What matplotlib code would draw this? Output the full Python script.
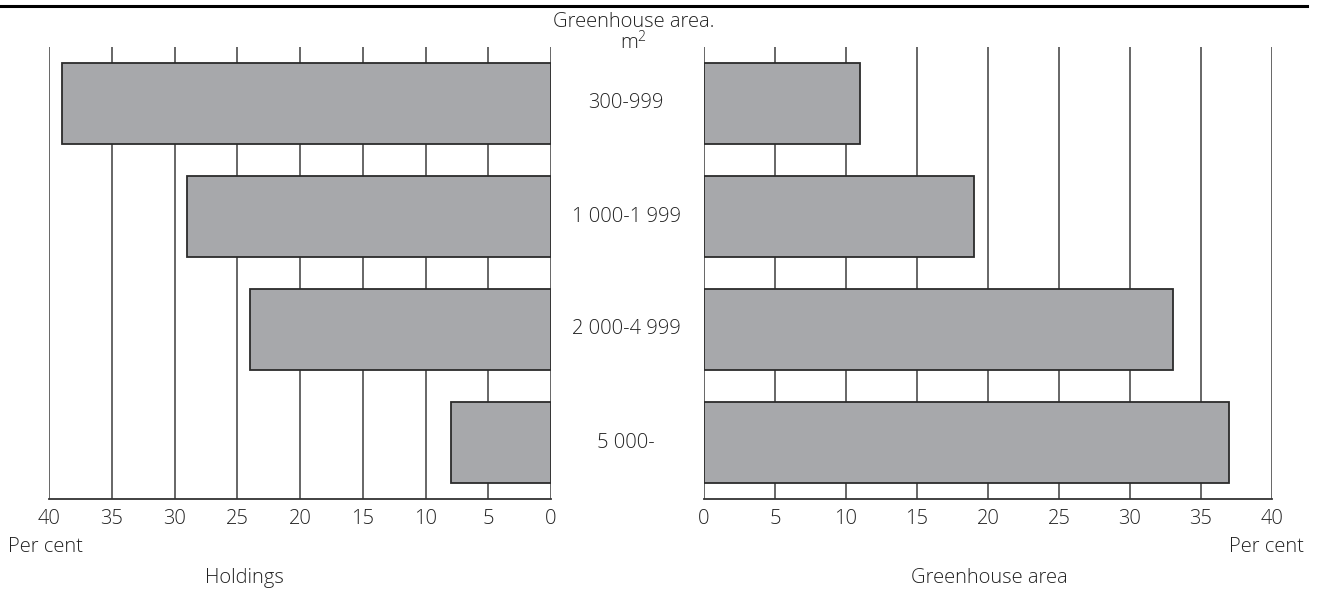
import numpy as np
import matplotlib
matplotlib.use('Agg')
import matplotlib.pyplot as plt
from matplotlib.lines import Line2D
from matplotlib.transforms import blended_transform_factory

plt.rcParams['font.family'] = ['Open Sans', 'DejaVu Sans']
plt.rcParams['font.weight'] = 'light'
plt.rcParams['mathtext.default'] = 'regular'

# data
categories = ['300-999', '1 000-1 999', '2 000-4 999', '5 000-']
holdings = [39, 29, 24, 8]
gh_area = [11, 19, 33, 37]
ticks = [0, 5, 10, 15, 20, 25, 30, 35, 40]

bar_color = '#a7a8ab'
edge_color = '#2b2b2b'
grid_color = '#5a5a5a'
txt_color = '#222222'
fs = 14.5

W, H = 1323, 592
fig = plt.figure(figsize=(W / 100, H / 100), dpi=100)

ax1 = fig.add_axes([49 / W, 93 / H, 502 / W, 452 / H])
ax2 = fig.add_axes([704 / W, 93 / H, 568 / W, 452 / H])

y = np.arange(len(categories))
for ax, vals in [(ax1, holdings), (ax2, gh_area)]:
    for t in ticks:
        ax.axvline(t, color=grid_color, lw=1.3, zorder=1)
    ax.barh(y, vals, height=0.72, color=bar_color, edgecolor=edge_color,
            linewidth=1.3, zorder=2)
    ax.set_ylim(3.5, -0.5)
    ax.set_xticks(ticks)
    ax.set_yticks([])
    for s in ['top', 'left', 'right']:
        ax.spines[s].set_visible(False)
    ax.spines['bottom'].set_color('#333333')
    ax.spines['bottom'].set_linewidth(1.3)
    ax.tick_params(axis='x', length=0, pad=7, labelsize=fs, colors=txt_color)

ax1.set_xlim(40, 0)
ax2.set_xlim(0, 40)

# category labels between the panels
tr = blended_transform_factory(fig.transFigure, ax1.transData)
for i, c in enumerate(categories):
    ax1.text(626 / W, i, c, transform=tr, ha='center', va='center',
             fontsize=fs, color=txt_color)

fig.text(634 / W, 1 - 22 / H, 'Greenhouse area.', ha='center', va='center',
         fontsize=fs, color=txt_color)
fig.text(634 / W, 1 - 43 / H, 'm$^2$', ha='center', va='center',
         fontsize=fs, color=txt_color)

fig.text(8 / W, 1 - 547 / H, 'Per cent', ha='left', va='center', fontsize=fs, color=txt_color)
fig.text(1304 / W, 1 - 547 / H, 'Per cent', ha='right', va='center', fontsize=fs, color=txt_color)
fig.text(244 / W, 1 - 578 / H, 'Holdings', ha='center', va='center', fontsize=fs, color=txt_color)
fig.text(989 / W, 1 - 578 / H, 'Greenhouse area', ha='center', va='center', fontsize=fs, color=txt_color)

# top rule
fig.add_artist(Line2D([0, 1307 / W], [1 - 6 / H, 1 - 6 / H], color='black', lw=2.2,
                      transform=fig.transFigure))

fig.savefig('out.png', dpi=100)
